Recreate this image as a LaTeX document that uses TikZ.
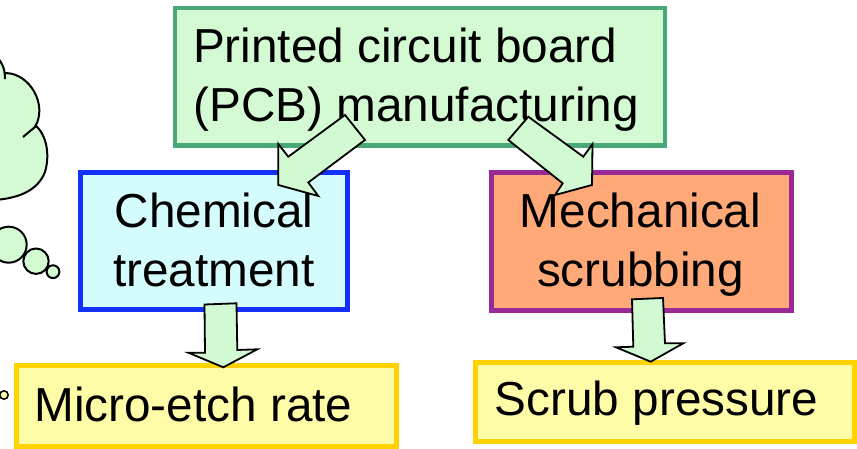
\documentclass[tikz,border=0pt]{standalone}
\usepackage{fontspec}
\setmainfont{Liberation Sans}
\definecolor{pcbfill}{HTML}{D4FAD4}
\definecolor{pcbline}{HTML}{48A878}
\definecolor{chemfill}{HTML}{D4FCFC}
\definecolor{chemline}{HTML}{1430FF}
\definecolor{mechfill}{HTML}{FFA878}
\definecolor{mechline}{HTML}{9A2896}
\definecolor{yelfill}{HTML}{FFFCA8}
\definecolor{yelline}{HTML}{FFD200}
\definecolor{arrowfill}{HTML}{D2FAD2}
\definecolor{cloudfill}{HTML}{D4FAD4}
\begin{document}
\begin{tikzpicture}[x=1pt,y=-1pt,
  boxnode/.style={rectangle,inner sep=0pt,outer sep=0pt},
  txt/.style={inner sep=0pt,outer sep=0pt,font=\fontsize{47.7}{59}\selectfont},
  blockarrow/.style={draw=black,line width=1.8pt,fill=arrowfill,line join=miter},
  cloudline/.style={draw=black,line width=2pt},
  bubble/.style={draw=black,line width=2pt,fill=cloudfill}]
\useasboundingbox (0,0) rectangle (857,449);
\begin{scope}
\clip (0,0) rectangle (857,449);
% thought cloud
\fill[cloudfill] (-5,55) .. controls (2,62) and (5,68) .. (5,73)
  .. controls (30,73) and (48,105) .. (35,127)
  .. controls (47,135) and (50,155) .. (45,172)
  .. controls (38,190) and (20,198) .. (-5,200) -- cycle;
\draw[cloudline] (-5,55) .. controls (2,62) and (5,68) .. (5,79);
\draw[cloudline] (5,73) .. controls (30,73) and (48,105) .. (35,127) -- (23,137);
\draw[cloudline] (35,125) .. controls (47,135) and (50,155) .. (45,172)
  .. controls (38,190) and (20,198) .. (-5,200);
\node[bubble,circle,minimum size=36pt,inner sep=0pt] (b1) at (8.7,244.7) {};
\node[bubble,circle,minimum size=25.4pt,inner sep=0pt] (b2) at (36,261.2) {};
\node[bubble,circle,minimum size=12.8pt,inner sep=0pt] (b3) at (53,271.7) {};
\node[bubble,circle,minimum size=8.4pt,inner sep=0pt,line width=1.5pt,fill=yelfill] (b4) at (4,395) {};
\end{scope}
% boxes
\node[boxnode,draw=pcbline,fill=pcbfill,line width=4.5pt,minimum width=490pt,minimum height=137.5pt] (pcb) at (420,77) {};
\node[boxnode,draw=chemline,fill=chemfill,line width=5pt,minimum width=267.5pt,minimum height=137pt] (chem) at (213.75,241) {};
\node[boxnode,draw=mechline,fill=mechfill,line width=5pt,minimum width=300pt,minimum height=137.5pt] (mech) at (641,241.25) {};
\node[boxnode,draw=yelline,fill=yelfill,line width=5pt,minimum width=380pt,minimum height=80.2pt] (micro) at (206.7,405.9) {};
\node[boxnode,draw=yelline,fill=yelfill,line width=5pt,minimum width=378.2pt,minimum height=79.3pt] (scrub) at (664.9,402.2) {};
% texts
\node[txt,anchor=base west] (pcbt1) at (193,63) {Printed circuit board};
\node[txt,anchor=base west] (pcbt2) at (193.5,121.7) {(PCB) manufacturing};
\node[txt,anchor=base] (chemt1) at (214,228) {Chemical};
\node[txt,anchor=base] (chemt2) at (214,287) {treatment};
\node[txt,anchor=base] (mecht1) at (640.5,228) {Mechanical};
\node[txt,anchor=base] (mecht2) at (640.5,287) {scrubbing};
\node[txt,anchor=base west] (microt) at (34.3,421.7) {Micro-etch rate};
\node[txt,anchor=base west] (scrubt) at (494.8,415) {Scrub pressure};
% block arrows
\draw[blockarrow] (345,115) -- (365,140) -- (308.3,182.5) -- (318.3,196) -- (278.3,185) -- (278.3,144) -- (288.3,156.7) -- cycle;
\draw[blockarrow] (528.3,116.7) -- (583.3,156.7) -- (592.5,144) -- (592,185) -- (555,195) -- (562.7,183.3) -- (508.3,140) -- cycle;
\draw[blockarrow] (204.5,304.5) -- (236.5,303.3) -- (237.3,350) -- (257.3,349.3) -- (223.3,367.3) -- (188.3,352.7) -- (205,352.7) -- cycle;
\draw[blockarrow] (632,299.3) -- (663,298) -- (665,343.3) -- (683.3,343.3) -- (650.7,361.7) -- (616,347.3) -- (633.3,346.7) -- cycle;
\end{tikzpicture}
\end{document}
